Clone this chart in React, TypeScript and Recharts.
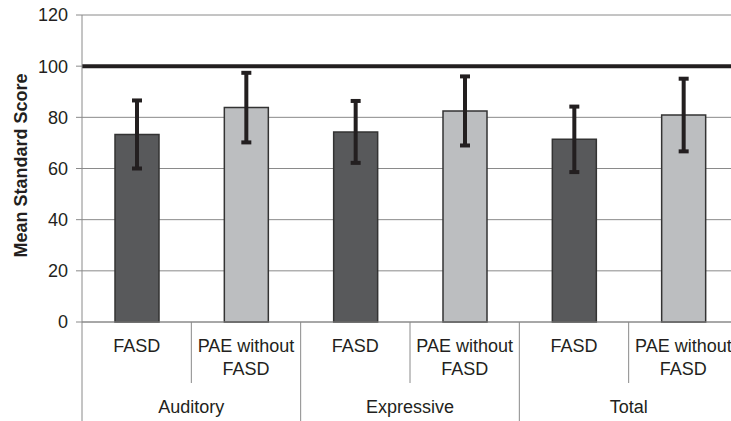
import React from "react";
import { BarChart, Bar, Cell, XAxis, YAxis, CartesianGrid, ReferenceLine, ErrorBar } from "recharts";

const groups = ["Auditory", "Expressive", "Total"];
const subgroups = ["FASD", "PAE without FASD"];
const subgroupLines = [["FASD"], ["PAE without", "FASD"]];
const means = [73.3, 83.8, 74.3, 82.5, 71.4, 80.9];
const errors = [13.3, 13.6, 12.1, 13.5, 12.8, 14.2];
const yTicks = [0, 20, 40, 60, 80, 100, 120];
const barColors = ["#58595b", "#bcbec0"];

const data = groups.flatMap((g, gi) =>
  subgroups.map((s, si) => {
    const i = gi * subgroups.length + si;
    return { key: `${g}|${s}`, group: g, sub: si, mean: means[i], err: errors[i] };
  })
);

const FONT = "'Liberation Sans', Arial, sans-serif";
const INK = "#231f20";
const RULE = "#8a8a8a";

function CategoryTick(props: any) {
  const { x, y, payload } = props;
  const idx = payload.index;
  const row = data[idx];
  if (!row) return null;
  const half = payload.offset ?? 54.67;
  const groupStart = row.sub === 0;
  const lines = subgroupLines[row.sub];
  return (
    <g>
      <line x1={x - half} x2={x - half} y1={y} y2={groupStart ? y + 99 : y + 61} stroke={RULE} strokeWidth={1} />
      <text x={x} y={y} textAnchor="middle" fontFamily={FONT} fontSize={18} fill={INK}>
        {lines.map((l, li) => (
          <tspan key={li} x={x} y={y + 30 + li * 23}>
            {l}
          </tspan>
        ))}
      </text>
      {groupStart && (
        <text x={x + half} y={y + 91} textAnchor="middle" fontFamily={FONT} fontSize={18} fill={INK}>
          {row.group}
        </text>
      )}
    </g>
  );
}

export default function App() {
  return (
    <div style={{ position: "fixed", left: 0, top: 0, width: 731, height: 421, overflow: "hidden", background: "#fff" }}>
      <BarChart width={740} height={421} data={data} margin={{ top: 15, right: 2, left: 0, bottom: 0 }} barSize={44}>
        <CartesianGrid vertical={false} stroke={RULE} strokeWidth={1} />
        <XAxis
          dataKey="key"
          interval={0}
          height={99}
          tickSize={0}
          tickMargin={0}
          tickLine={false}
          axisLine={{ stroke: RULE, strokeWidth: 1 }}
          tick={<CategoryTick />}
        />
        <YAxis
          width={82}
          domain={[0, 120]}
          ticks={yTicks}
          interval={0}
          tickSize={6}
          tickMargin={8}
          axisLine={{ stroke: RULE, strokeWidth: 1 }}
          tickLine={{ stroke: RULE, strokeWidth: 1 }}
          tick={{ fontFamily: FONT, fontSize: 18, fill: INK }}
          label={{
            content: (p: any) => {
              const vb = p.viewBox || { x: 0, y: 15, height: 307 };
              const cx = vb.x + 21;
              const cy = vb.y + vb.height / 2 - 3;
              return (
                <text
                  x={cx}
                  y={cy}
                  transform={`rotate(-90, ${cx}, ${cy})`}
                  textAnchor="middle"
                  dominantBaseline="central"
                  fontFamily={FONT}
                  fontSize={18}
                  fontWeight="bold"
                  fill={INK}
                >
                  Mean Standard Score
                </text>
              );
            },
          }}
        />
        <ReferenceLine y={100} stroke={INK} strokeWidth={4} ifOverflow="extendDomain" />
        <Bar dataKey="mean" stroke="#333" strokeWidth={1.5} isAnimationActive={false}>
          {data.map((d) => (
            <Cell key={d.key} fill={barColors[d.sub]} />
          ))}
          <ErrorBar dataKey="err" width={5} stroke={INK} strokeWidth={4} direction="y" isAnimationActive={false} />
        </Bar>
      </BarChart>
    </div>
  );
}
